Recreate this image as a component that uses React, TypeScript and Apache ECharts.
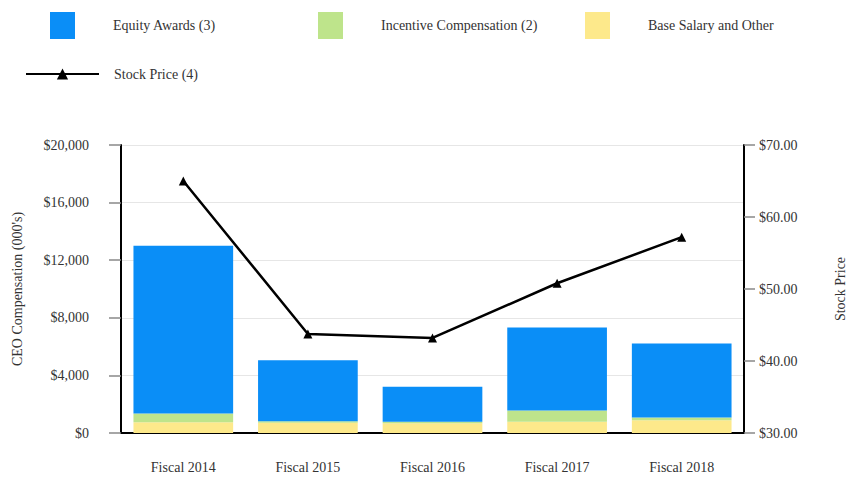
import React, { useEffect, useRef } from "react";
import * as echarts from "echarts";

const categories = ["Fiscal 2014", "Fiscal 2015", "Fiscal 2016", "Fiscal 2017", "Fiscal 2018"];
const baseSalary = [750, 710, 680, 780, 890];
const incentive = [600, 110, 100, 790, 190];
const equity = [11650, 4230, 2430, 5760, 5135];
const stockPrice = [65.0, 43.75, 43.2, 50.8, 57.2];

const FONT = "Liberation Serif";
const FS = 14;

export default function App() {
  const ref = useRef<HTMLDivElement>(null);
  useEffect(() => {
    if (!ref.current) return;
    const chart = echarts.init(ref.current, undefined, { renderer: "svg" });
    const legendText = { fontFamily: FONT, fontSize: FS, color: "#333" };
    const barLegend = (name: string, left: number) => ({
      data: [name],
      left,
      top: 12,
      padding: 0,
      itemWidth: 25,
      itemHeight: 27,
      icon: "rect",
      selectedMode: false,
      textStyle: { ...legendText, padding: [3, 0, 0, 33] },
    });
    chart.setOption({
      animation: false,
      backgroundColor: "#ffffff",
      legend: [
        barLegend("Equity Awards (3)", 50),
        barLegend("Incentive Compensation (2)", 318),
        barLegend("Base Salary and Other", 585),
        {
          data: ["Stock Price (4)"],
          left: 25,
          top: 67,
          padding: 0,
          itemWidth: 73,
          itemHeight: 14,
          selectedMode: false,
          textStyle: { ...legendText, padding: [0, 0, 0, 10] },
        },
      ],
      grid: {
        left: 121,
        right: 104,
        top: 145,
        bottom: 46,
        containLabel: false,
        outerBoundsMode: "none",
      },
      xAxis: {
        type: "category",
        data: categories,
        axisLine: { lineStyle: { color: "#000", width: 2 } },
        axisTick: { alignWithLabel: true, length: 10, lineStyle: { color: "#777", width: 1.5 } },
        axisLabel: { fontFamily: FONT, fontSize: FS, color: "#333", margin: 27 },
      },
      yAxis: [
        {
          type: "value",
          min: 0,
          max: 20000,
          interval: 4000,
          name: "CEO Compensation (000's)",
          nameLocation: "middle",
          nameRotate: 90,
          nameGap: 97,
          nameTextStyle: { fontFamily: FONT, fontSize: FS, color: "#333" },
          axisLine: { show: true, lineStyle: { color: "#000", width: 2 } },
          axisTick: { show: true, length: 12, lineStyle: { color: "#888", width: 1.5 } },
          axisLabel: {
            fontFamily: FONT,
            fontSize: FS,
            color: "#333",
            margin: 32,
            formatter: (v: number) => "$" + v.toLocaleString("en-US"),
          },
          splitLine: { show: true, lineStyle: { color: "#e6e6e6", width: 1 } },
        },
        {
          type: "value",
          min: 30,
          max: 70,
          interval: 10,
          name: "Stock Price",
          nameLocation: "middle",
          nameRotate: 90,
          nameGap: 96,
          nameTextStyle: { fontFamily: FONT, fontSize: FS, color: "#333", verticalAlign: "middle" },
          axisLine: { show: true, lineStyle: { color: "#000", width: 2 } },
          axisTick: { show: true, length: 11, lineStyle: { color: "#888", width: 1.5 } },
          axisLabel: {
            fontFamily: FONT,
            fontSize: FS,
            color: "#333",
            margin: 15,
            formatter: (v: number) => "$" + v.toFixed(2),
          },
          splitLine: { show: false },
        },
      ],
      series: [
        {
          name: "Base Salary and Other",
          type: "bar",
          stack: "comp",
          data: baseSalary,
          barWidth: "80%",
          itemStyle: { color: "#fde98b" },
        },
        {
          name: "Incentive Compensation (2)",
          type: "bar",
          stack: "comp",
          data: incentive,
          barWidth: "80%",
          itemStyle: { color: "#bee48b" },
        },
        {
          name: "Equity Awards (3)",
          type: "bar",
          stack: "comp",
          data: equity,
          barWidth: "80%",
          itemStyle: { color: "#0a8ef7" },
        },
        {
          name: "Stock Price (4)",
          type: "line",
          yAxisIndex: 1,
          data: stockPrice,
          symbol: "triangle",
          symbolSize: 9,
          itemStyle: { color: "#000" },
          lineStyle: { color: "#000", width: 2.5 },
          z: 5,
        },
      ],
    });
    return () => chart.dispose();
  }, []);
  return (
    <div
      ref={ref}
      style={{ position: "absolute", left: 0, top: 0, width: 848, height: 479 }}
    />
  );
}
